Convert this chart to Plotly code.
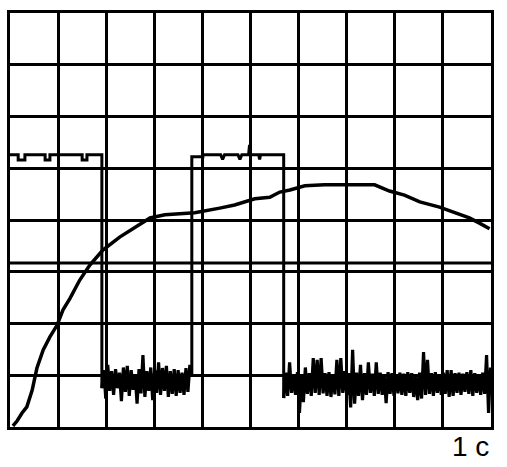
import numpy as np
import plotly.graph_objects as go

# scope screen: 10 x 8 divisions
# channel A: slow rising/falling curve (divisions)
curve_x = [0.06, 0.15, 0.25, 0.35, 0.46, 0.56, 0.69, 0.83, 0.98, 1.10, 1.25, 1.45,
           1.66, 1.93, 2.28, 2.60, 2.91, 3.22, 3.84, 4.36, 4.67, 5.09, 5.40, 5.61,
           5.82, 6.13, 6.54, 7.58, 7.89, 8.20, 8.52, 8.93, 9.24, 9.55, 9.76, 9.97]
curve_y = [0.02, 0.12, 0.27, 0.39, 0.71, 1.14, 1.49, 1.74, 1.97, 2.26, 2.49, 2.84,
           3.13, 3.42, 3.67, 3.86, 4.04, 4.10, 4.14, 4.23, 4.29, 4.41, 4.44, 4.54,
           4.58, 4.66, 4.68, 4.68, 4.56, 4.48, 4.35, 4.25, 4.15, 4.04, 3.94, 3.83]

# channel B: pulse train, high parts (with small ripple notches)
pulse1_x = [0.0, 0.17, 0.17, 0.31, 0.31, 0.73, 0.73, 0.83, 0.83, 1.50, 1.50, 1.60, 1.60, 1.91]
pulse1_y = [5.26, 5.26, 5.16, 5.16, 5.26, 5.26, 5.16, 5.16, 5.26, 5.26, 5.16, 5.16, 5.26, 5.26]
pulse2_x = [3.78, 4.01, 4.01, 4.38, 4.42, 4.46, 4.74, 4.78, 4.82, 4.96, 4.98, 5.00, 5.17, 5.19, 5.21, 5.69]
pulse2_y = [5.22, 5.22, 5.26, 5.26, 5.17, 5.26, 5.26, 5.17, 5.26, 5.26, 5.45, 5.26, 5.26, 5.17, 5.26, 5.26]

# channel B: low (noisy) parts
low1_start, low1_end = 1.91, 3.78
low1_y = [0.75, 1.10, 0.55, 1.20, 0.70, 1.08, 0.62, 1.12, 0.75, 1.05, 0.50, 1.15,
          0.68, 1.18, 0.60, 1.10, 0.72, 1.02, 0.45, 1.12, 0.65, 1.39, 0.58, 1.08,
          0.70, 1.15, 0.52, 1.10, 0.66, 1.25, 0.62, 1.14, 0.70, 1.18, 0.58, 1.08,
          0.64, 1.12, 0.60, 1.10, 0.66, 1.05, 0.62, 1.14, 0.68, 1.20, 0.98]
low2_start, low2_end = 5.69, 9.99
low2_y = [0.56,
          1.05, 0.60, 1.25, 0.66, 1.02, 0.62, 1.06, 0.27, 1.00, 0.48, 1.15, 0.64,
          1.04, 0.60, 1.33, 0.66, 1.30, 0.62, 1.33, 0.65, 1.04, 0.60, 1.06, 0.58,
          1.02, 0.63, 1.30, 0.60, 1.33, 0.66, 1.08, 0.62, 1.04, 0.38, 1.49, 0.45,
          1.05, 0.60, 1.20, 0.52, 1.04, 0.62, 1.25, 0.66, 1.03, 0.60, 1.25, 0.64,
          1.05, 0.62, 1.02, 0.46, 1.06, 0.64, 1.04, 0.60, 1.02, 0.65, 1.05, 0.62,
          1.03, 0.60, 1.06, 0.66, 1.04, 0.58, 1.02, 0.52, 1.05, 0.55, 1.45, 0.62,
          1.30, 0.64, 1.04, 0.60, 1.06, 0.66, 1.02, 0.62, 1.05, 0.64, 1.10, 0.58,
          1.10, 0.60, 1.04, 0.66, 1.05, 0.62, 1.03, 0.68, 1.06, 0.64, 1.10, 0.60,
          1.04, 0.66, 1.02, 0.62, 1.05, 0.64, 1.39, 0.27, 1.15]

ref_levels = [3.17]
timebase_label = "1 c"

low1_x = list(np.linspace(low1_start, low1_end, len(low1_y)))
low2_x = list(np.linspace(low2_start, low2_end, len(low2_y)))

fig = go.Figure()

for lvl in ref_levels:
    fig.add_hline(y=lvl, line=dict(color='black', width=3), layer='below')

# pulse high levels and edges
fig.add_trace(go.Scatter(x=pulse1_x + [low1_x[0]] + [None] + [low1_x[-1]] + pulse2_x + [low2_x[0]],
                         y=pulse1_y + [low1_y[0]] + [None] + [low1_y[-1]] + pulse2_y + [low2_y[0]],
                         mode='lines', line=dict(color='black', width=3), showlegend=False))
# noisy low levels
fig.add_trace(go.Scatter(x=low1_x + [None] + low2_x, y=low1_y + [None] + low2_y,
                         mode='lines', line=dict(color='black', width=3.2), showlegend=False))
fig.add_trace(go.Scatter(x=curve_x, y=curve_y, mode='lines',
                         line=dict(color='black', width=3.5), showlegend=False))

fig.add_annotation(text=timebase_label, xref='paper', yref='paper', x=1.0, y=-0.048,
                   xanchor='right', yanchor='middle', showarrow=False,
                   font=dict(family='Liberation Sans, Arial', size=28, color='black'))

fig.update_layout(
    width=507, height=467,
    margin=dict(l=10, r=16, t=13, b=40),
    plot_bgcolor='white', paper_bgcolor='white',
    xaxis=dict(range=[0, 10], dtick=1, showticklabels=False, zeroline=False,
               showgrid=True, gridcolor='black', gridwidth=3,
               showline=True, mirror=True, linecolor='black', linewidth=3),
    yaxis=dict(range=[0, 8], dtick=1, showticklabels=False, zeroline=False,
               showgrid=True, gridcolor='black', gridwidth=3,
               showline=True, mirror=True, linecolor='black', linewidth=3),
)

fig.write_html("out.html", config={'displayModeBar': False},
               post_script="document.body.style.margin='0';")
